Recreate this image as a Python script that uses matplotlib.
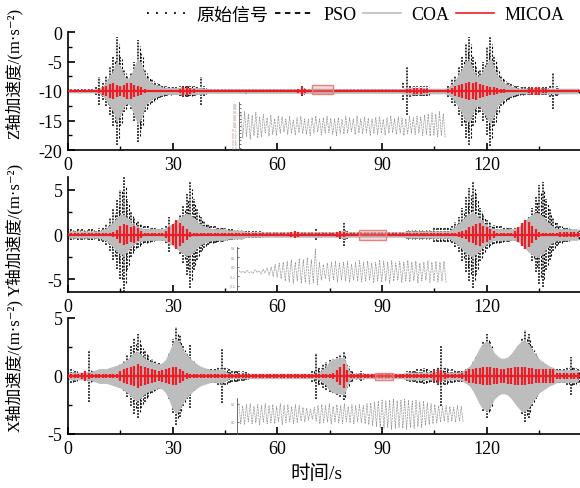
import numpy as np
import matplotlib
matplotlib.use('Agg')
import matplotlib.pyplot as plt
from matplotlib.lines import Line2D
from matplotlib.patches import Rectangle

plt.rcParams['font.family'] = ['Liberation Serif', 'Noto Sans CJK SC', 'DejaVu Serif']
plt.rcParams['axes.unicode_minus'] = False

# amplitudes (half peak-to-peak) read per second, t = 0..146 s
# Z axis, baseline -10
z_orig = [0.3, 0.3, 0.3, 0.3, 0.3, 0.3, 0.3, 0.4, 0.6, 2.4,
          1.5, 2.5, 4.0, 6.0, 9.2, 6.0, 3.5, 2.5, 3.0, 5.0,
          8.6, 6.5, 3.5, 2.5, 2.0, 1.5, 1.2, 1.0, 0.8, 0.7,
          0.6, 0.6, 0.8, 1.0, 1.0, 0.9, 0.8, 0.6, 2.4, 0.8,
          0.4, 0.3, 0.3, 0.3, 0.3, 0.3, 0.3, 0.3, 0.3, 0.3,
          0.3, 0.5, 0.3, 0.3, 0.3, 0.3, 0.3, 0.3, 0.3, 0.3,
          0.3, 0.3, 0.3, 0.3, 0.3, 0.3, 0.4, 0.8, 0.4, 0.3,
          0.4, 0.4, 0.4, 0.4, 0.4, 0.4, 0.4, 0.3, 0.3, 0.3,
          0.3, 0.3, 0.3, 0.3, 0.3, 0.3, 0.3, 0.3, 0.3, 0.3,
          0.3, 0.3, 0.3, 0.3, 0.3, 0.4, 1.5, 4.0, 1.0, 0.8,
          0.8, 0.8, 0.8, 0.8, 0.5, 0.5, 0.5, 0.5, 0.5, 1.0,
          2.0, 2.5, 4.0, 6.0, 8.0, 9.2, 6.0, 4.0, 3.5, 5.0,
          7.5, 9.3, 6.0, 4.0, 2.5, 2.0, 1.5, 1.2, 1.0, 0.8,
          0.7, 0.6, 0.6, 0.6, 0.6, 0.6, 0.6, 0.6, 1.0, 3.0,
          0.8, 0.4, 0.4, 0.4, 0.4, 0.4, 0.4]
z_pso = [0.25, 0.25, 0.25, 0.25, 0.25, 0.25, 0.25, 0.25, 0.5, 0.6,
         1.3, 2.2, 3.5, 5.2, 8.0, 5.5, 3.0, 2.2, 2.6, 4.4,
         7.6, 5.8, 3.0, 2.2, 1.7, 1.3, 1.0, 0.9, 0.7, 0.6,
         0.5, 0.5, 0.7, 0.9, 0.9, 0.8, 0.7, 0.5, 0.5, 0.5,
         0.25, 0.25, 0.25, 0.25, 0.25, 0.25, 0.25, 0.25, 0.25, 0.25,
         0.25, 0.25, 0.25, 0.25, 0.25, 0.25, 0.25, 0.25, 0.25, 0.25,
         0.25, 0.25, 0.25, 0.25, 0.25, 0.25, 0.3, 0.5, 0.3, 0.25,
         0.3, 0.3, 0.3, 0.3, 0.3, 0.3, 0.3, 0.25, 0.25, 0.25,
         0.25, 0.25, 0.25, 0.25, 0.25, 0.25, 0.25, 0.25, 0.25, 0.25,
         0.25, 0.25, 0.25, 0.25, 0.25, 0.3, 0.4, 0.5, 0.7, 0.7,
         0.7, 0.7, 0.7, 0.7, 0.4, 0.4, 0.4, 0.4, 0.4, 0.8,
         1.7, 2.2, 3.5, 5.2, 7.0, 8.0, 5.2, 3.5, 3.0, 4.4,
         6.5, 8.0, 5.2, 3.5, 2.2, 1.7, 1.3, 1.0, 0.9, 0.7,
         0.6, 0.5, 0.5, 0.5, 0.5, 0.5, 0.5, 0.5, 0.6, 0.6,
         0.5, 0.35, 0.35, 0.35, 0.35, 0.35, 0.35]
z_coa = [0.25, 0.25, 0.25, 0.25, 0.25, 0.25, 0.25, 0.25, 0.3, 0.4,
         0.8, 1.5, 2.5, 3.5, 5.0, 4.0, 2.5, 2.0, 2.5, 4.0,
         5.5, 4.5, 2.5, 1.8, 1.3, 1.0, 0.8, 0.6, 0.5, 0.5,
         0.5, 0.5, 0.5, 0.5, 0.5, 0.5, 0.5, 0.5, 0.5, 0.4,
         0.3, 0.3, 0.3, 0.3, 0.3, 0.3, 0.3, 0.3, 0.3, 0.3,
         0.3, 0.3, 0.3, 0.3, 0.3, 0.3, 0.3, 0.3, 0.3, 0.3,
         0.3, 0.3, 0.3, 0.3, 0.3, 0.3, 0.3, 0.4, 0.3, 0.3,
         0.4, 0.4, 0.4, 0.4, 0.4, 0.4, 0.4, 0.3, 0.3, 0.3,
         0.3, 0.3, 0.3, 0.3, 0.3, 0.3, 0.3, 0.3, 0.3, 0.3,
         0.3, 0.3, 0.3, 0.3, 0.3, 0.3, 0.4, 0.5, 0.5, 0.5,
         0.5, 0.5, 0.5, 0.4, 0.4, 0.4, 0.4, 0.4, 0.4, 0.6,
         1.0, 1.8, 2.8, 3.8, 5.0, 5.2, 3.5, 2.5, 2.5, 3.5,
         4.5, 5.5, 4.0, 2.5, 1.8, 1.3, 1.0, 0.8, 0.6, 0.4,
         0.4, 0.4, 0.4, 0.4, 0.4, 0.4, 0.4, 0.4, 0.4, 0.4,
         0.4, 0.4, 0.4, 0.4, 0.4, 0.4, 0.4]
z_micoa = [0.2, 0.2, 0.2, 0.2, 0.2, 0.2, 0.2, 0.2, 0.2, 0.4,
           0.6, 0.9, 1.2, 1.4, 1.0, 0.8, 1.1, 1.4, 1.3, 1.0,
           0.8, 0.6, 0.4, 0.25, 0.25, 0.25, 0.25, 0.25, 0.25, 0.25,
           0.25, 0.25, 0.4, 0.6, 0.6, 0.5, 0.4, 0.25, 0.2, 0.2,
           0.2, 0.2, 0.2, 0.2, 0.2, 0.2, 0.2, 0.2, 0.2, 0.2,
           0.2, 0.2, 0.2, 0.2, 0.2, 0.2, 0.2, 0.2, 0.2, 0.2,
           0.2, 0.2, 0.2, 0.2, 0.2, 0.2, 0.3, 0.6, 0.3, 0.2,
           0.2, 0.2, 0.2, 0.2, 0.2, 0.2, 0.2, 0.2, 0.2, 0.2,
           0.2, 0.2, 0.2, 0.2, 0.2, 0.2, 0.2, 0.2, 0.2, 0.2,
           0.2, 0.2, 0.2, 0.2, 0.2, 0.2, 0.2, 0.3, 0.4, 0.5,
           0.5, 0.5, 0.4, 0.3, 0.2, 0.2, 0.2, 0.2, 0.2, 0.3,
           0.5, 0.8, 1.0, 1.2, 1.4, 1.5, 1.3, 1.5, 1.2, 1.0,
           0.9, 0.7, 0.6, 0.5, 0.4, 0.3, 0.2, 0.2, 0.2, 0.2,
           0.2, 0.2, 0.4, 0.6, 0.7, 0.6, 0.4, 0.3, 0.2, 0.2,
           0.2, 0.2, 0.2, 0.2, 0.2, 0.2, 0.2]

# Y axis, baseline 0
y_orig = [0.6, 0.6, 0.5, 0.6, 0.6, 0.5, 0.6, 0.6, 0.5, 0.7,
          0.8, 1.2, 1.8, 2.8, 3.8, 5.0, 6.4, 4.0, 2.5, 1.8,
          1.5, 1.2, 1.0, 0.9, 0.8, 0.7, 0.6, 0.7, 1.0, 2.0,
          1.2, 1.5, 2.2, 3.2, 4.5, 6.0, 4.0, 2.8, 2.0, 1.5,
          1.2, 1.0, 0.9, 0.8, 0.8, 0.7, 0.6, 0.6, 0.5, 0.5,
          0.4, 0.35, 0.35, 0.35, 0.35, 0.35, 0.25, 0.25, 0.25, 0.25,
          0.25, 0.25, 0.25, 0.25, 0.25, 0.25, 0.25, 0.25, 0.25, 0.25,
          0.3, 0.6, 0.3, 0.25, 0.25, 0.25, 0.25, 0.25, 0.5, 1.3,
          0.5, 0.25, 0.25, 0.25, 0.25, 0.25, 0.25, 0.25, 0.25, 0.25,
          0.25, 0.25, 0.25, 0.25, 0.25, 0.25, 0.25, 0.5, 0.5, 0.5,
          0.5, 0.5, 0.5, 0.5, 0.5, 0.8, 0.8, 0.8, 0.8, 0.8,
          1.0, 1.4, 2.0, 3.0, 4.2, 5.2, 6.0, 4.5, 3.0, 2.2,
          1.6, 1.3, 1.1, 1.0, 0.9, 0.8, 0.8, 0.7, 0.7, 0.8,
          1.0, 1.4, 2.0, 3.0, 4.2, 5.5, 5.8, 4.0, 2.8, 1.8,
          1.3, 1.0, 0.8, 0.8, 0.6, 0.5, 0.5]
y_pso = [0.5, 0.5, 0.45, 0.5, 0.5, 0.45, 0.5, 0.5, 0.45, 0.6,
         0.7, 1.0, 1.5, 2.4, 3.2, 4.9, 5.4, 3.4, 2.1, 1.5,
         1.3, 1.0, 0.9, 0.8, 0.7, 0.6, 0.5, 0.6, 0.8, 0.9,
         1.0, 1.3, 1.9, 2.7, 3.8, 5.1, 3.4, 2.4, 1.7, 1.3,
         1.0, 0.9, 0.8, 0.7, 0.7, 0.6, 0.5, 0.5, 0.45, 0.45,
         0.35, 0.3, 0.3, 0.3, 0.3, 0.3, 0.2, 0.2, 0.2, 0.2,
         0.2, 0.2, 0.2, 0.2, 0.2, 0.2, 0.2, 0.2, 0.2, 0.2,
         0.25, 0.3, 0.25, 0.2, 0.2, 0.2, 0.2, 0.2, 0.4, 0.5,
         0.3, 0.2, 0.2, 0.2, 0.2, 0.2, 0.2, 0.2, 0.2, 0.2,
         0.2, 0.2, 0.2, 0.2, 0.2, 0.2, 0.2, 0.45, 0.45, 0.45,
         0.45, 0.45, 0.45, 0.45, 0.45, 0.7, 0.7, 0.7, 0.7, 0.7,
         0.9, 1.2, 1.7, 2.6, 3.6, 4.4, 5.1, 3.8, 2.6, 1.9,
         1.4, 1.1, 0.9, 0.9, 0.8, 0.7, 0.7, 0.6, 0.6, 0.7,
         0.9, 1.2, 1.7, 2.6, 3.6, 4.7, 4.9, 3.4, 2.4, 1.5,
         1.1, 0.9, 0.7, 0.7, 0.5, 0.45, 0.45]
y_coa = [0.35, 0.35, 0.35, 0.35, 0.35, 0.35, 0.35, 0.35, 0.35, 0.35,
         0.5, 0.7, 1.0, 1.4, 1.8, 2.2, 2.2, 1.8, 1.3, 1.0,
         0.8, 0.7, 0.6, 0.6, 0.6, 0.6, 0.6, 0.6, 0.7, 1.0,
         1.2, 1.5, 1.8, 2.1, 2.3, 2.2, 1.8, 1.4, 1.1, 0.9,
         0.8, 0.6, 0.6, 0.6, 0.6, 0.6, 0.45, 0.45, 0.45, 0.45,
         0.45, 0.25, 0.25, 0.25, 0.25, 0.25, 0.25, 0.25, 0.25, 0.25,
         0.25, 0.25, 0.25, 0.25, 0.25, 0.25, 0.25, 0.25, 0.25, 0.25,
         0.25, 0.3, 0.25, 0.25, 0.25, 0.25, 0.25, 0.25, 0.3, 0.4,
         0.3, 0.25, 0.25, 0.25, 0.25, 0.25, 0.25, 0.25, 0.25, 0.25,
         0.25, 0.25, 0.25, 0.25, 0.25, 0.25, 0.25, 0.35, 0.35, 0.35,
         0.35, 0.35, 0.35, 0.35, 0.35, 0.35, 0.35, 0.35, 0.35, 0.35,
         0.6, 0.9, 1.2, 1.6, 2.0, 2.3, 2.4, 2.1, 1.7, 1.3,
         1.0, 0.8, 0.6, 0.6, 0.6, 0.6, 0.6, 0.6, 0.6, 0.8,
         1.1, 1.5, 1.9, 2.2, 2.4, 2.3, 2.0, 1.5, 1.1, 0.8,
         0.6, 0.6, 0.6, 0.6, 0.6, 0.6, 0.6]
y_micoa = [0.15, 0.15, 0.15, 0.15, 0.15, 0.15, 0.15, 0.15, 0.15, 0.15,
           0.15, 0.15, 0.2, 0.3, 0.5, 0.9, 1.2, 1.1, 0.8, 0.9,
           0.7, 0.4, 0.2, 0.15, 0.15, 0.15, 0.15, 0.2, 0.4, 0.8,
           1.2, 1.6, 1.3, 1.0, 0.6, 0.3, 0.2, 0.15, 0.15, 0.15,
           0.15, 0.15, 0.15, 0.15, 0.15, 0.15, 0.15, 0.15, 0.15, 0.15,
           0.15, 0.15, 0.15, 0.15, 0.15, 0.15, 0.15, 0.15, 0.15, 0.15,
           0.15, 0.15, 0.15, 0.2, 0.3, 0.4, 0.3, 0.15, 0.15, 0.15,
           0.15, 0.15, 0.15, 0.15, 0.15, 0.15, 0.15, 0.3, 0.4, 0.3,
           0.15, 0.15, 0.15, 0.15, 0.15, 0.15, 0.15, 0.15, 0.15, 0.15,
           0.15, 0.15, 0.15, 0.15, 0.15, 0.15, 0.15, 0.15, 0.15, 0.15,
           0.15, 0.15, 0.15, 0.15, 0.15, 0.15, 0.15, 0.15, 0.15, 0.15,
           0.15, 0.2, 0.3, 0.4, 0.5, 0.8, 1.0, 1.2, 1.3, 1.0,
           0.8, 0.6, 0.4, 0.2, 0.15, 0.15, 0.15, 0.2, 0.4, 0.8,
           1.3, 1.6, 1.4, 1.0, 0.6, 0.3, 0.2, 0.15, 0.15, 0.2,
           0.2, 0.3, 0.3, 0.3, 0.3, 0.3, 0.3]

# X axis, baseline 0
x_orig = [0.3, 0.6, 0.5, 0.3, 0.3, 0.4, 2.2, 0.5, 0.4, 0.5,
          0.5, 0.4, 0.5, 0.6, 0.8, 1.0, 1.3, 1.8, 2.6, 3.3,
          3.6, 2.8, 2.2, 1.8, 1.5, 1.3, 1.1, 1.0, 1.3, 2.0,
          3.2, 4.2, 3.5, 2.6, 2.0, 2.8, 1.3, 0.9, 0.7, 0.6,
          0.6, 0.6, 0.6, 0.8, 2.3, 0.8, 0.6, 0.5, 0.5, 0.4,
          0.4, 0.35, 0.25, 0.25, 0.25, 0.25, 0.25, 0.25, 0.25, 0.25,
          0.25, 0.25, 0.25, 0.25, 0.25, 0.25, 0.25, 0.25, 0.25, 0.25,
          0.5, 2.0, 0.8, 1.0, 1.2, 1.4, 1.5, 1.6, 1.8, 2.1,
          1.0, 0.5, 0.3, 0.3, 0.4, 0.2, 0.2, 0.2, 0.2, 0.2,
          0.2, 0.2, 0.2, 0.2, 0.2, 0.2, 0.2, 0.4, 0.5, 0.5,
          0.6, 0.6, 0.7, 0.6, 0.5, 0.6, 0.8, 2.6, 0.8, 0.6,
          0.6, 0.5, 0.5, 0.5, 0.6, 0.8, 1.2, 1.6, 2.2, 3.0,
          3.6, 3.0, 2.0, 1.6, 1.4, 1.2, 1.3, 1.6, 2.0, 2.6,
          3.3, 4.0, 3.6, 2.6, 2.0, 1.5, 1.2, 1.0, 0.8, 0.7,
          0.6, 0.6, 0.6, 0.8, 1.6, 0.8, 0.6]
x_pso = [0.25, 0.5, 0.4, 0.25, 0.25, 0.35, 0.5, 0.4, 0.35, 0.4,
         0.4, 0.35, 0.4, 0.5, 0.7, 0.9, 1.1, 1.5, 2.2, 2.8,
         3.1, 2.4, 1.9, 1.5, 1.3, 1.1, 0.9, 0.9, 1.1, 1.7,
         2.7, 3.6, 3.0, 2.2, 1.7, 1.3, 1.1, 0.8, 0.6, 0.5,
         0.5, 0.5, 0.5, 0.7, 0.7, 0.7, 0.5, 0.45, 0.45, 0.35,
         0.35, 0.3, 0.2, 0.2, 0.2, 0.2, 0.2, 0.2, 0.2, 0.2,
         0.2, 0.2, 0.2, 0.2, 0.2, 0.2, 0.2, 0.2, 0.2, 0.2,
         0.4, 0.6, 0.7, 0.9, 1.0, 1.2, 1.3, 1.4, 1.5, 1.8,
         0.9, 0.4, 0.25, 0.25, 0.3, 0.2, 0.2, 0.2, 0.2, 0.2,
         0.2, 0.2, 0.2, 0.2, 0.2, 0.2, 0.2, 0.35, 0.45, 0.45,
         0.5, 0.5, 0.6, 0.5, 0.45, 0.5, 0.7, 0.7, 0.7, 0.5,
         0.5, 0.45, 0.45, 0.45, 0.5, 0.7, 1.0, 1.4, 1.9, 2.6,
         3.1, 2.6, 1.7, 1.4, 1.2, 1.0, 1.1, 1.4, 1.7, 2.2,
         2.8, 3.4, 3.1, 2.2, 1.7, 1.3, 1.0, 0.9, 0.7, 0.6,
         0.5, 0.5, 0.5, 0.7, 0.8, 0.7, 0.5]
x_coa = [0.3, 0.3, 0.3, 0.3, 0.3, 0.3, 0.3, 0.4, 0.5, 0.6,
         0.6, 0.6, 0.7, 0.8, 0.9, 1.0, 1.2, 1.4, 1.7, 2.0,
         2.1, 1.8, 1.5, 1.3, 1.2, 1.1, 1.0, 1.1, 1.4, 2.0,
         2.8, 3.2, 2.8, 2.2, 1.8, 1.5, 1.2, 1.0, 0.8, 0.7,
         0.6, 0.5, 0.5, 0.5, 0.6, 0.4, 0.2, 0.2, 0.2, 0.2,
         0.2, 0.2, 0.2, 0.2, 0.2, 0.2, 0.2, 0.2, 0.2, 0.2,
         0.2, 0.2, 0.2, 0.2, 0.2, 0.2, 0.2, 0.2, 0.2, 0.2,
         0.2, 0.2, 0.3, 0.5, 0.8, 1.2, 1.4, 1.5, 1.5, 1.6,
         0.8, 0.2, 0.2, 0.2, 0.2, 0.2, 0.2, 0.2, 0.2, 0.2,
         0.2, 0.2, 0.2, 0.2, 0.2, 0.2, 0.2, 0.3, 0.3, 0.3,
         0.3, 0.3, 0.3, 0.3, 0.3, 0.3, 0.3, 0.3, 0.3, 0.3,
         0.3, 0.3, 0.3, 0.4, 0.6, 0.8, 1.2, 1.8, 2.4, 2.8,
         3.0, 2.6, 2.0, 1.7, 1.5, 1.5, 1.6, 1.9, 2.3, 2.7,
         3.0, 3.0, 2.7, 2.2, 1.8, 1.4, 1.2, 1.0, 0.8, 0.7,
         0.5, 0.5, 0.5, 0.5, 0.5, 0.5, 0.5]
x_micoa = [0.15, 0.15, 0.15, 0.15, 0.3, 0.4, 0.3, 0.2, 0.2, 0.2,
           0.2, 0.2, 0.2, 0.2, 0.2, 0.4, 0.6, 0.7, 0.8, 0.9,
           1.0, 0.9, 0.8, 0.7, 0.6, 0.5, 0.4, 0.5, 0.6, 0.7,
           0.8, 0.8, 0.6, 0.4, 0.3, 0.2, 0.2, 0.2, 0.2, 0.2,
           0.2, 0.2, 0.2, 0.2, 0.2, 0.15, 0.15, 0.15, 0.15, 0.15,
           0.15, 0.15, 0.15, 0.15, 0.15, 0.15, 0.15, 0.15, 0.15, 0.15,
           0.15, 0.15, 0.15, 0.15, 0.15, 0.15, 0.15, 0.15, 0.15, 0.15,
           0.15, 0.15, 0.15, 0.15, 0.15, 0.15, 0.3, 0.5, 0.8, 1.0,
           0.5, 0.2, 0.15, 0.15, 0.15, 0.15, 0.15, 0.15, 0.15, 0.15,
           0.15, 0.15, 0.15, 0.15, 0.15, 0.15, 0.15, 0.15, 0.15, 0.15,
           0.15, 0.15, 0.15, 0.15, 0.15, 0.4, 0.6, 0.5, 0.3, 0.15,
           0.15, 0.15, 0.15, 0.3, 0.4, 0.6, 0.6, 0.7, 0.7, 0.8,
           0.8, 0.8, 0.7, 0.7, 0.6, 0.6, 0.7, 0.7, 0.8, 0.8,
           0.8, 0.8, 0.7, 0.7, 0.6, 0.6, 0.6, 0.6, 0.6, 0.6,
           0.3, 0.3, 0.3, 0.3, 0.3, 0.3, 0.3]

# zoomed detail signals shown in the insets
z_zoom = [0.55, -0.5, 0.6, -0.45, 0.5, -0.55, 0.45, -0.4, 0.58, -0.5,
          0.4, -0.45, 0.5, -0.3, 0.35, -0.42, 0.45, -0.35, 0.3, -0.4,
          0.42, -0.3, 0.38, -0.25, 0.3, -0.35, 0.4, -0.3, 0.25, -0.38,
          0.35, -0.28, 0.4, -0.32, 0.3, -0.35, 0.28, -0.4, 0.35, -0.3,
          0.42, -0.25, 0.3, -0.38, 0.35, -0.3, 0.4, -0.28, 0.32, -0.35,
          0.3, -0.4, 0.36, -0.3, 0.28, -0.34, 0.4, -0.3, 0.35, -0.25,
          0.3, -0.36, 0.42, -0.3, 0.3, -0.32, 0.38, -0.28, 0.33, -0.4,
          0.3, -0.3, 0.36, -0.35, 0.4, -0.3, 0.28, -0.38, 0.35, -0.3,
          0.42, -0.28, 0.3, -0.35, 0.38, -0.3, 0.33, -0.4, 0.3, -0.32,
          0.4, -0.3, 0.35, -0.36, 0.42, -0.3, 0.38, -0.4, 0.45, -0.35,
          0.5, -0.42, 0.55, -0.38, 0.5, -0.45, 0.6, -0.4, 0.52, -0.48]
y_zoom = [-0.08, -0.12, -0.09, -0.13, -0.07, -0.12, -0.1, -0.14, -0.06, -0.12,
          -0.08, -0.15, -0.05, -0.13, -0.02, -0.18, 0.0, -0.2, 0.05, -0.22,
          0.08, -0.25, 0.1, -0.3, 0.12, -0.32, 0.15, -0.35, 0.1, -0.3,
          0.18, -0.35, 0.15, -0.33, 0.2, -0.36, 0.15, -0.33, 0.38, -0.38,
          0.1, -0.28, 0.05, -0.25, 0.08, -0.3, 0.1, -0.27, 0.12, -0.32,
          0.08, -0.28, 0.1, -0.3, 0.12, -0.33, 0.06, -0.28, 0.1, -0.3,
          0.14, -0.32, 0.1, -0.3, 0.12, -0.28, 0.08, -0.34, 0.1, -0.3,
          0.15, -0.32, 0.12, -0.3, 0.1, -0.35, 0.13, -0.3, 0.08, -0.28,
          0.12, -0.33, 0.1, -0.3, 0.14, -0.32, 0.1, -0.29, 0.12, -0.34,
          0.08, -0.3, 0.1, -0.28, 0.13, -0.33, 0.1, -0.3, 0.12, -0.32,
          0.1, -0.3, 0.12, -0.33]
x_zoom = [0.2, -0.02, 0.18, -0.03, 0.19, 0.0, 0.2, -0.02, 0.17, -0.01,
          0.19, -0.03, 0.18, 0.0, 0.2, -0.02, 0.18, -0.01, 0.19, -0.02,
          0.17, 0.0, 0.2, -0.03, 0.18, -0.01, 0.19, 0.0, 0.17, -0.02,
          0.19, -0.01, 0.18, 0.01, 0.16, 0.0, 0.15, 0.02, 0.14, 0.03,
          0.16, 0.01, 0.18, -0.02, 0.19, -0.01, 0.18, 0.0, 0.2, -0.02,
          0.17, 0.0, 0.19, -0.01, 0.18, -0.02, 0.2, 0.0, 0.17, -0.01,
          0.19, -0.02, 0.18, 0.0, 0.19, -0.01, 0.18, -0.02, 0.2, -0.03,
          0.21, -0.04, 0.22, -0.05, 0.23, -0.06, 0.24, -0.07, 0.23, -0.06,
          0.24, -0.08, 0.25, -0.07, 0.23, -0.06, 0.24, -0.07, 0.25, -0.08,
          0.24, -0.06, 0.23, -0.07, 0.24, -0.05, 0.22, -0.06, 0.23, -0.04,
          0.21, -0.03, 0.2, -0.02, 0.19, -0.01, 0.18, 0.0, 0.17, 0.01,
          0.18, 0.0, 0.17, 0.01, 0.16, 0.0, 0.18, 0.01, 0.17, 0.0]

RED = '#ee1c24'
GREY = '#bdbdbd'


def draw_panel(ax, base, orig, pso, coa, micoa):
    o = np.array(orig)
    p = np.array(pso)
    c = np.array(coa)
    m = np.array(micoa)
    ax.vlines(np.arange(len(o)), base - o, base + o, colors='k',
              linestyles=(0, (1.2, 0.8)), lw=1.1, zorder=1)
    ax.vlines(np.arange(len(p)) + 0.5, base - p, base + p, colors='k',
              linestyles=(0, (2, 1.5)), lw=0.8, zorder=1)
    ax.fill_between(np.arange(len(c)), base - c, base + c, color=GREY, lw=0.6, zorder=2)
    ax.axhline(base, color=RED, lw=1.6, zorder=3)
    ax.vlines(np.arange(len(m)), base - m, base + m, colors=RED, lw=1.6, zorder=3)


fig = plt.figure(figsize=(5.8, 4.89), dpi=100)

W, H = 580.0, 489.0


def px_axes(left, top, right, bottom):
    return fig.add_axes([left / W, 1 - bottom / H, (right - left) / W, (bottom - top) / H])


ax1 = px_axes(68, 33, 580, 151)
ax2 = px_axes(68, 178, 580, 293)
ax3 = px_axes(68, 319, 580, 435)

draw_panel(ax1, -10, z_orig, z_pso, z_coa, z_micoa)
draw_panel(ax2, 0, y_orig, y_pso, y_coa, y_micoa)
draw_panel(ax3, 0, x_orig, x_pso, x_coa, x_micoa)

ax1.set_ylim(-20, 0)
ax1.set_yticks([0, -5, -10, -15, -20])
ax2.set_ylim(-6.4, 6.4)
ax2.set_yticks([5, 0, -5])
ax3.set_ylim(-5, 5)
ax3.set_yticks([5, 0, -5])

ylabels = ['Z轴加速度/(m·s⁻²)', 'Y轴加速度/(m·s⁻²)', 'X轴加速度/(m·s⁻²)']
label_y = [0.66, 0.55, 0.6]
for ax, lab, ly in zip([ax1, ax2, ax3], ylabels, label_y):
    ax.set_xlim(0, 146.7)
    ax.set_xticks([0, 30, 60, 90, 120])
    ax.set_xticks([15, 45, 75, 105, 135], minor=True)
    ax.yaxis.set_minor_locator(matplotlib.ticker.AutoMinorLocator(2))
    ax.spines['top'].set_visible(False)
    ax.spines['right'].set_visible(False)
    ax.spines['left'].set_linewidth(1.2)
    ax.spines['bottom'].set_linewidth(1.2)
    ax.tick_params(direction='in', which='major', length=5, width=1.2, labelsize=13, pad=4)
    ax.tick_params(direction='in', which='minor', length=3, width=1.0)
    ax.set_ylabel(lab, fontsize=12)
    ax.yaxis.set_label_coords(-0.088, ly)
    ax.set_facecolor('none')

ax3.set_xlabel('时间/s', fontsize=14, labelpad=4)
ax3.xaxis.set_label_coords(0.485, -0.26)

# highlighted zoom windows
rects = [(ax1, 70, -10.5, 6, 1.5), (ax2, 83.5, -0.6, 7.5, 1.1), (ax3, 88, -0.35, 5, 0.65)]
for ax, x0, y0, w, h in rects:
    ax.add_patch(Rectangle((x0, y0), w, h, facecolor=(0.85, 0.6, 0.6, 0.35),
                           edgecolor='#e88080', lw=1.0, zorder=4))


def draw_inset(left, top, right, bottom, vals, ylim, yticks):
    ia = px_axes(left, top, right, bottom)
    ia.plot(np.arange(len(vals)), vals, color='#9a9a9a', lw=0.5, ls=(0, (3, 1)))
    ia.set_xlim(-1, len(vals))
    ia.set_ylim(*ylim)
    ia.set_yticks(yticks)
    ia.set_yticklabels(['%.1f' % v for v in yticks])
    ia.set_xticks([])
    for s in ['top', 'right', 'bottom']:
        ia.spines[s].set_visible(False)
    ia.spines['left'].set_linewidth(0.6)
    ia.spines['left'].set_color('#555555')
    ia.tick_params(axis='y', direction='in', length=1.5, width=0.4, labelsize=2.5,
                   labelcolor='#a08070', pad=1)
    ia.patch.set_alpha(0)
    return ia


draw_inset(239, 103, 447, 151, z_zoom, (-1, 1),
           [-0.9, -0.75, -0.6, -0.45, -0.3, -0.15, 0.0, 0.15, 0.3, 0.45, 0.6, 0.75, 0.9])
draw_inset(237, 248, 448, 293, y_zoom, (-0.53, 0.42), [-0.4, -0.2, 0.0, 0.2, 0.4])
draw_inset(237, 399, 465, 435, x_zoom, (-0.131, 0.262), [0.0, 0.2])

handles = [Line2D([], [], color='k', ls=(0, (1, 4)), lw=1.3),
           Line2D([], [], color='k', ls=(0, (3, 2.5)), lw=1.3),
           Line2D([], [], color=GREY, ls='-', lw=1.2),
           Line2D([], [], color=RED, ls='-', lw=1.2)]
fig.legend(handles, ['原始信号', 'PSO', 'COA', 'MICOA'], loc='center',
           bbox_to_anchor=(356 / W, 1 - 16 / H), ncol=4, frameon=False,
           fontsize=13, handlelength=2.1, handletextpad=0.6, columnspacing=0.35)

fig.savefig('out.png', dpi=100)
